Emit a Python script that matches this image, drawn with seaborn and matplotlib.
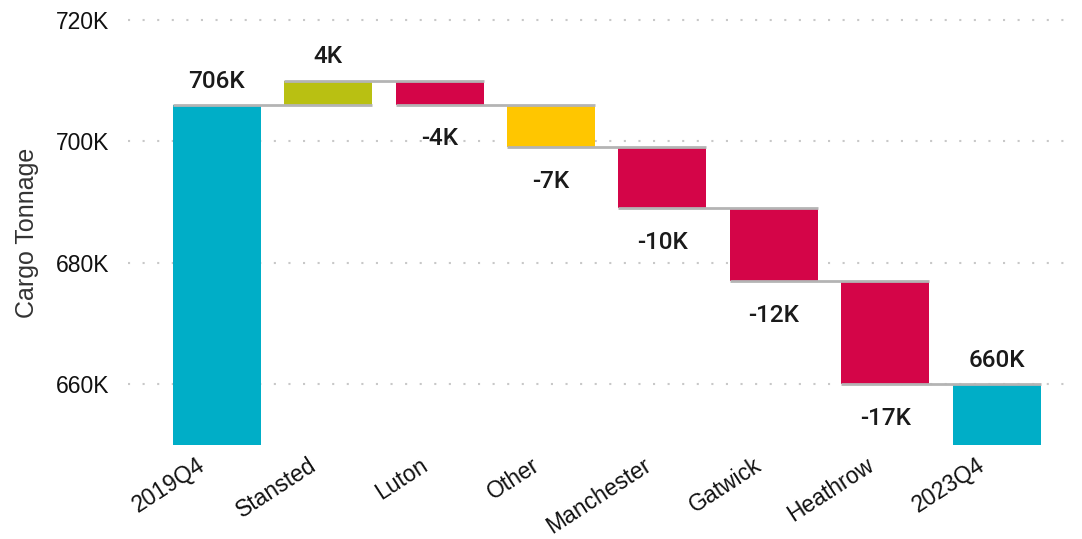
import numpy as np
import pandas as pd
import matplotlib.pyplot as plt
import matplotlib.transforms as mtransforms
import seaborn as sns

sns.set_style("white")
plt.rcParams["font.family"] = ["Liberation Sans", "DejaVu Sans"]

steps = ["2019Q4", "Stansted", "Luton", "Other", "Manchester", "Gatwick", "Heathrow", "2023Q4"]
start_total = 706
changes = [4, -4, -7, -10, -12, -17]
end_total = 660
colors = ["#00AEC7", "#B9C012", "#D40548", "#FFC600", "#D40548", "#D40548", "#D40548", "#00AEC7"]

# running levels for the waterfall
levels = [start_total]
for c in changes:
    levels.append(levels[-1] + c)
bottoms = [650] + [min(levels[i], levels[i + 1]) for i in range(len(changes))] + [650]
heights = [start_total - 650] + [abs(c) for c in changes] + [end_total - 650]
labels = [f"{start_total}K"] + [f"{c}K" for c in changes] + [f"{end_total}K"]
signs = [1] + [1 if c > 0 else -1 for c in changes] + [1]
df = pd.DataFrame({"step": steps, "height": heights, "bottom": bottoms})

fig = plt.figure(figsize=(10.82, 5.39), dpi=100)
ax = fig.add_axes([0.118, 0.174, 0.871, 0.804])
width = 0.79
sns.barplot(data=df, x="step", y="height", bottom=df["bottom"].values, width=width,
            errorbar=None, color=colors[0], ax=ax, zorder=2)
for patch, col in zip(ax.patches, colors):
    patch.set_facecolor(col)
    patch.set_edgecolor("none")

# connector lines
for i in range(len(steps) - 1):
    ax.hlines(levels[i], i - width / 2, i + 1 + width / 2, color="#B4B4B4", lw=2, zorder=3)

# value labels
for i, (lab, s) in enumerate(zip(labels, signs)):
    if s > 0:
        yv = df["bottom"][i] + df["height"][i]
        off = 17
    else:
        yv = df["bottom"][i]
        off = -24.5
    ax.annotate(lab, (i, yv), xytext=(0, off), textcoords="offset points",
                ha="center", va="center", fontsize=17.5, family="Roboto",
                fontweight="medium", color="#1a1a1a")

ax.set_ylim(650, 721.3)
ax.set_xlim(-0.8, 7.66)
ax.set_yticks([660, 680, 700, 720])
ax.set_yticklabels(["660K", "680K", "700K", "720K"])
ax.yaxis.grid(True, color="#C8C8C8", linestyle=(0, (1, 6)), lw=1.5, zorder=0)
ax.set_axisbelow(True)
for sp in ax.spines.values():
    sp.set_visible(False)
ax.tick_params(axis="both", length=0, labelsize=16.5, colors="#111111")
ax.tick_params(axis="y", pad=13)
ax.tick_params(axis="x", pad=6)
shift = mtransforms.ScaledTranslation(-20 / 100, 0, fig.dpi_scale_trans)
for lab in ax.get_xticklabels():
    lab.set_rotation(33)
    lab.set_ha("right")
    lab.set_rotation_mode("anchor")
    lab.set_transform(lab.get_transform() + shift)
ax.set_xlabel("")
ax.set_ylabel("Cargo Tonnage", fontsize=18, color="#333333")
ax.yaxis.set_label_coords(-0.094, 0.49)

fig.savefig("out.png", dpi=100)
